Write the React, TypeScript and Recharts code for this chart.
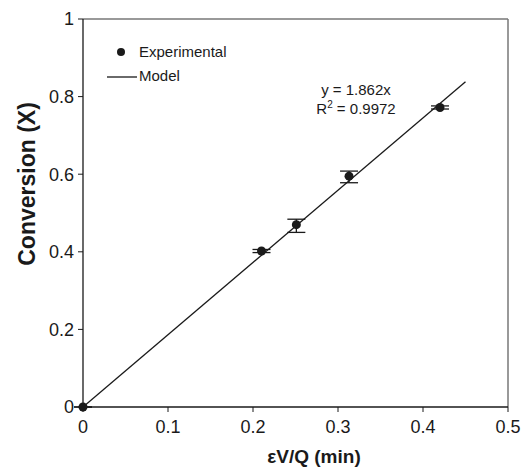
import React from "react";
import {
  ComposedChart,
  Scatter,
  Line,
  XAxis,
  YAxis,
  ErrorBar,
  ReferenceLine,
  Legend,
} from "recharts";

// residence time εV/Q (min) vs conversion
const residence = [0, 0.21, 0.251, 0.313, 0.42];
const conversion = [0, 0.402, 0.47, 0.595, 0.772];
const errLow = [0, 0.004, 0.02, 0.017, 0.004];
const errHigh = [0, 0.004, 0.014, 0.013, 0.004];

// fitted model y = 1.862x, drawn to 0.45
const modelX = [0, 0.45];
const modelY = [0, 0.838];

const xTicks = [0, 0.1, 0.2, 0.3, 0.4, 0.5];
const yTicks = [0, 0.2, 0.4, 0.6, 0.8, 1];

const FONT = "'Liberation Sans', Arial, sans-serif";
const INK = "#1a1a1a";

const expData = residence.map((x, i) => ({
  x,
  y: conversion[i],
  err: [errLow[i], errHigh[i]],
}));
const modelData = modelX.map((x, i) => ({ x, y: modelY[i] }));

const Dot = (props: any) => (
  <circle cx={props.cx} cy={props.cy} r={4.5} fill={INK} />
);

const LegendBox = () => (
  <svg width={160} height={50} style={{ display: "block" }}>
    <circle cx={14} cy={13} r={4} fill={INK} />
    <text x={32} y={18} fontSize={15} fontFamily={FONT} fill={INK}>
      Experimental
    </text>
    <line x1={0} y1={38} x2={30} y2={38} stroke={INK} strokeWidth={1.3} />
    <text x={32} y={42} fontSize={15} fontFamily={FONT} fill={INK}>
      Model
    </text>
  </svg>
);

export default function App() {
  return (
    <div style={{ position: "absolute", left: 0, top: 0, width: 531, height: 467, background: "#fff" }}>
      <ComposedChart
        width={531}
        height={467}
        margin={{ top: 19, right: 23, bottom: 0, left: 0 }}
      >
        <XAxis
          dataKey="x"
          type="number"
          domain={[0, 0.5]}
          ticks={xTicks}
          height={60}
          tickSize={5}
          tickMargin={8}
          axisLine={{ stroke: INK, strokeWidth: 1.3 }}
          tickLine={{ stroke: INK }}
          tick={{ fill: INK, fontSize: 18, fontFamily: FONT }}
          label={{
            content: () => (
              <text
                x={314}
                y={463}
                textAnchor="middle"
                fontSize={19}
                fontWeight="bold"
                fontFamily={FONT}
                fill={INK}
              >
                εV/Q (min)
              </text>
            ),
          }}
        />
        <YAxis
          dataKey="y"
          type="number"
          domain={[0, 1]}
          ticks={yTicks}
          width={83}
          tickSize={5}
          tickMargin={4}
          axisLine={{ stroke: INK, strokeWidth: 1.3 }}
          tickLine={{ stroke: INK }}
          tick={{ fill: INK, fontSize: 18, fontFamily: FONT }}
          label={{
            content: () => (
              <text
                x={0}
                y={0}
                transform="translate(35 184) rotate(-90)"
                textAnchor="middle"
                fontSize={23}
                fontWeight="bold"
                fontFamily={FONT}
                fill={INK}
              >
                Conversion (X)
              </text>
            ),
          }}
        />
        <ReferenceLine y={1} stroke="#777" strokeWidth={1.5} />
        <ReferenceLine x={0.5} stroke="#777" strokeWidth={1.5} />
        <Legend
          layout="vertical"
          align="center"
          verticalAlign="middle"
          wrapperStyle={{ left: 107, top: 39, width: 160, height: 50 }}
          content={() => <LegendBox />}
        />
        <Line
          data={modelData}
          dataKey="y"
          type="linear"
          stroke={INK}
          strokeWidth={1.3}
          dot={false}
          activeDot={false}
          legendType="none"
          isAnimationActive={false}
        />
        <Scatter
          data={expData}
          dataKey="y"
          shape={<Dot />}
          legendType="none"
          isAnimationActive={false}
        >
          <ErrorBar dataKey="err" direction="y" width={9} stroke={INK} strokeWidth={1.3} />
        </Scatter>
      </ComposedChart>
      <div
        style={{
          position: "absolute",
          left: 300,
          top: 80,
          width: 112,
          textAlign: "center",
          fontFamily: FONT,
          fontSize: 15,
          lineHeight: "19px",
          color: INK,
        }}
      >
        <div>y = 1.862x</div>
        <div>
          R<sup style={{ fontSize: 10, lineHeight: 0 }}>2</sup> = 0.9972
        </div>
      </div>
    </div>
  );
}
